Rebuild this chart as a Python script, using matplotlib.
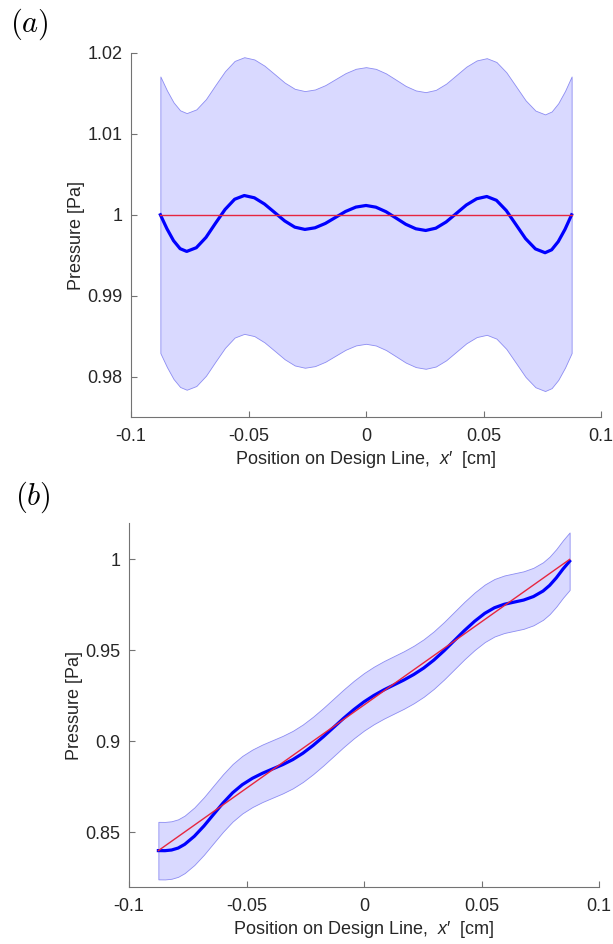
import matplotlib
matplotlib.use("Agg")
import matplotlib.pyplot as plt
import numpy as np

plt.rcParams['font.family'] = ['Liberation Sans', 'DejaVu Sans']
plt.rcParams['axes.unicode_minus'] = False
plt.rcParams['mathtext.fontset'] = 'custom'
plt.rcParams['mathtext.rm'] = 'Liberation Sans'
plt.rcParams['mathtext.it'] = 'Liberation Sans:italic'

# positions along the design line [cm]
x_pos = [-0.0875, -0.0847, -0.0819, -0.0791, -0.0763,
         -0.0722, -0.0681, -0.0641, -0.0600, -0.0559, -0.0518,
         -0.0475, -0.0432, -0.0389, -0.0346, -0.0303, -0.0260,
         -0.0217, -0.0173, -0.0130, -0.0087, -0.0043, 0.0000,
         0.0042, 0.0085, 0.0127, 0.0169, 0.0212, 0.0254,
         0.0297, 0.0341, 0.0384, 0.0427, 0.0471, 0.0514,
         0.0555, 0.0597, 0.0638, 0.0679, 0.0721, 0.0762,
         0.0790, 0.0818, 0.0847, 0.0875]

# (a) mean pressure
mean_a = [1.00000, 0.99827, 0.99680, 0.99581, 0.99547,
          0.99593, 0.99720, 0.99893, 1.00065, 1.00192, 1.00238,
          1.00210, 1.00133, 1.00029, 0.99924, 0.99847, 0.99819,
          0.99839, 0.99893, 0.99967, 1.00041, 1.00095, 1.00115,
          1.00094, 1.00038, 0.99961, 0.99883, 0.99827, 0.99806,
          0.99834, 0.99911, 1.00016, 1.00121, 1.00198, 1.00226,
          1.00179, 1.00052, 0.99879, 0.99705, 0.99578, 0.99531,
          0.99567, 0.99668, 0.99821, 1.00000]
band_a = 0.0171
target_a_x = [-0.0875, 0.0875]
target_a_y = [1.0, 1.0]

# (b) mean pressure
mean_b = [0.84000, 0.83996, 0.84032, 0.84139, 0.84344,
          0.84788, 0.85354, 0.85978, 0.86612, 0.87177, 0.87621,
          0.87972, 0.88250, 0.88487, 0.88723, 0.89000, 0.89351,
          0.89774, 0.90257, 0.90761, 0.91267, 0.91750, 0.92173,
          0.92525, 0.92834, 0.93102, 0.93369, 0.93678, 0.94031,
          0.94466, 0.94984, 0.95535, 0.96086, 0.96603, 0.97038,
          0.97343, 0.97536, 0.97651, 0.97765, 0.97959, 0.98263,
          0.98573, 0.98981, 0.99475, 0.99900]
band_b = 0.0158
target_b_x = [-0.0875, 0.0875]
target_b_y = [0.84, 1.0]

xticks = [-0.1, -0.05, 0, 0.05, 0.1]
xtick_labels = ['-0.1', '-0.05', '0', '0.05', '0.1']
yticks_a = [0.98, 0.99, 1.0, 1.01, 1.02]
ytick_labels_a = ['0.98', '0.99', '1', '1.01', '1.02']
yticks_b = [0.85, 0.9, 0.95, 1.0]
ytick_labels_b = ['0.85', '0.9', '0.95', '1']

fig = plt.figure(figsize=(6.13, 9.44), dpi=100)
W, H = 613, 944
ax_a = fig.add_axes([131 / W, 1 - 417 / H, 470 / W, 364 / H])
ax_b = fig.add_axes([129 / W, 1 - 887 / H, 470 / W, 364 / H])


def draw(ax, mean, band, tx, ty, yticks, ylabels, ylim):
    x = np.array(x_pos)
    m = np.array(mean)
    ax.fill_between(x, m - band, m + band, facecolor=(0.85, 0.85, 1.0),
                    edgecolor=(0.55, 0.55, 0.95), linewidth=0.6, zorder=1)
    ax.plot(x, m, color='blue', linewidth=2.3, zorder=2,
            solid_joinstyle='round')
    ax.plot(tx, ty, color=(0.9, 0.15, 0.25), linewidth=1.0, zorder=3)
    ax.set_xlim(-0.1, 0.1)
    ax.set_ylim(*ylim)
    ax.set_xticks(xticks)
    ax.set_xticklabels(xtick_labels)
    ax.set_yticks(yticks)
    ax.set_yticklabels(ylabels)
    for s in ['top', 'right']:
        ax.spines[s].set_visible(False)
    for s in ['left', 'bottom']:
        ax.spines[s].set_color('0.45')
        ax.spines[s].set_linewidth(0.8)
    ax.tick_params(direction='in', length=4, width=0.8, color='0.45',
                   labelcolor='0.15', labelsize=13)
    ax.tick_params(axis='x', pad=8)
    ax.tick_params(axis='y', pad=6)
    ax.set_xlabel("Position on Design Line,  $x$\u2032  [cm]", fontsize=13,
                  color='0.15', labelpad=3)
    ax.set_ylabel('Pressure [Pa]', fontsize=13, color='0.15', labelpad=2)


draw(ax_a, mean_a, band_a, target_a_x, target_a_y, yticks_a, ytick_labels_a,
     (0.975, 1.02))
draw(ax_b, mean_b, band_b, target_b_x, target_b_y, yticks_b, ytick_labels_b,
     (0.82, 1.02))

fig.text(10 / W, 1 - 24 / H, '$(a)$', fontsize=22, math_fontfamily='cm',
         va='center', ha='left')
fig.text(15 / W, 1 - 497 / H, '$(b)$', fontsize=22, math_fontfamily='cm',
         va='center', ha='left')

fig.savefig('out.png', dpi=100)
